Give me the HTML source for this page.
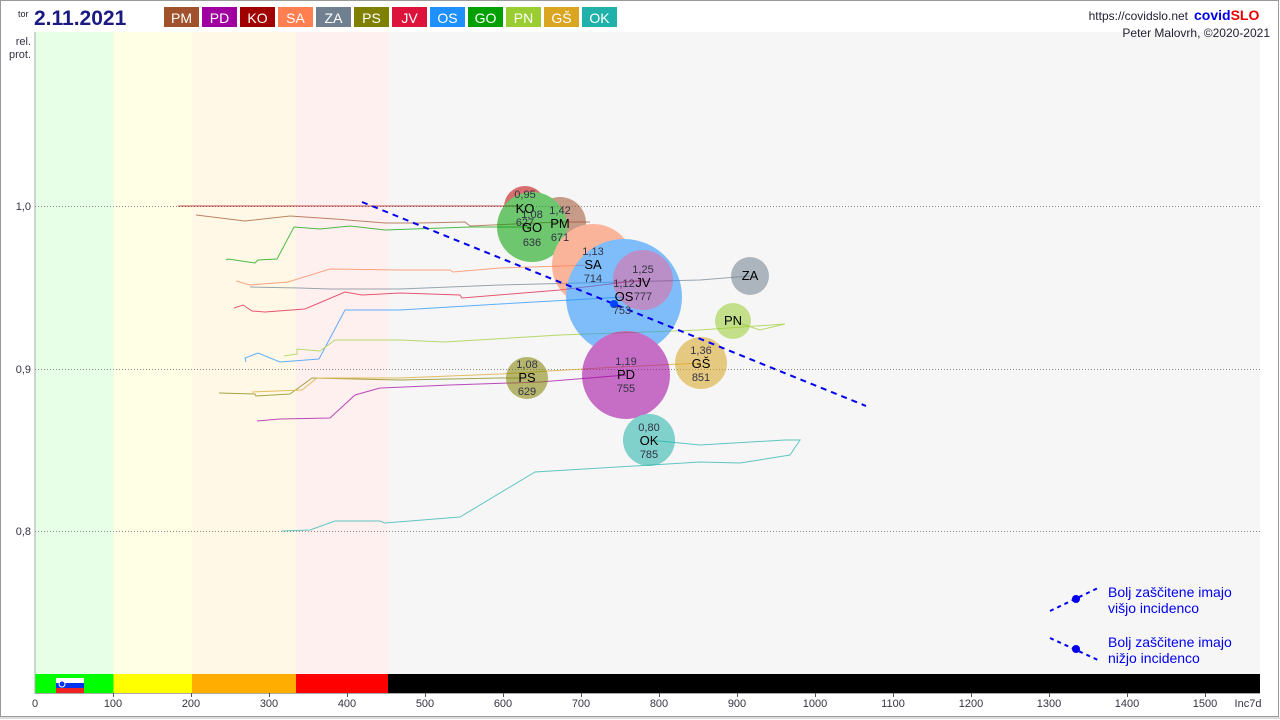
<!DOCTYPE html>
<html><head><meta charset="utf-8"><style>
html,body{margin:0;padding:0;background:#fff;}
svg{display:block;font-family:"Liberation Sans",sans-serif;}
</style></head><body>
<svg width="1280" height="720" viewBox="0 0 1280 720" xmlns="http://www.w3.org/2000/svg">
<rect x="0" y="0" width="1280" height="720" fill="#fff"/>
<rect x="0.5" y="0.5" width="1278" height="716" fill="none" stroke="#999"/>
<line x1="0" y1="718" x2="1280" y2="718" stroke="#ddd" stroke-width="2"/>
<!-- bands -->
<rect x="35" y="32" width="78.5" height="642" fill="#e6ffe6"/>
<rect x="113.5" y="32" width="78.5" height="642" fill="#ffffe6"/>
<rect x="192" y="32" width="104" height="642" fill="#fff8e6"/>
<rect x="296" y="32" width="92" height="642" fill="#fff0f0"/>
<rect x="388" y="32" width="872" height="642" fill="#f6f6f6"/>
<rect x="35" y="674" width="78.5" height="19" fill="#00ff00"/>
<rect x="113.5" y="674" width="78.5" height="19" fill="#ffff00"/>
<rect x="192" y="674" width="104" height="19" fill="#ffad00"/>
<rect x="296" y="674" width="92" height="19" fill="#ff0000"/>
<rect x="388" y="674" width="872" height="19" fill="#000"/>
<rect x="56" y="678" width="28" height="5" fill="#fff"/>
<rect x="56" y="683" width="28" height="5" fill="#0033ee"/>
<rect x="56" y="688" width="28" height="5" fill="#ee2222"/>
<circle cx="62" cy="684" r="3" fill="#0033ee" stroke="#fff" stroke-width="1"/>
<line x1="35" y1="32" x2="35" y2="694" stroke="#aaa"/>
<line x1="35" y1="693.5" x2="1260" y2="693.5" stroke="#aaa"/>
<!-- grid -->
<g stroke="#888" stroke-dasharray="1,2" stroke-width="1">
<line x1="35" y1="206.5" x2="1260" y2="206.5"/>
<line x1="35" y1="369.5" x2="1260" y2="369.5"/>
<line x1="35" y1="531.5" x2="1260" y2="531.5"/>
</g>
<g font-size="11" fill="#334" text-anchor="end">
<text x="31" y="210">1,0</text><text x="31" y="373">0,9</text><text x="31" y="535">0,8</text>
<text x="31" y="45">rel.</text><text x="31" y="58">prot.</text>
</g>
<g font-size="11" fill="#334" text-anchor="middle">
<text x="35" y="707">0</text><text x="113" y="707">100</text><text x="191" y="707">200</text><text x="269" y="707">300</text><text x="347" y="707">400</text><text x="425" y="707">500</text><text x="503" y="707">600</text><text x="581" y="707">700</text><text x="659" y="707">800</text><text x="737" y="707">900</text><text x="815" y="707">1000</text><text x="893" y="707">1100</text><text x="971" y="707">1200</text><text x="1049" y="707">1300</text><text x="1127" y="707">1400</text><text x="1205" y="707">1500</text><text x="1248" y="707">Inc7d</text>
</g>
<g stroke="#555" stroke-width="1">
<line x1="113.5" y1="693" x2="113.5" y2="697"/><line x1="191.5" y1="693" x2="191.5" y2="697"/><line x1="269.5" y1="693" x2="269.5" y2="697"/><line x1="347.5" y1="693" x2="347.5" y2="697"/><line x1="425.5" y1="693" x2="425.5" y2="697"/><line x1="503.5" y1="693" x2="503.5" y2="697"/><line x1="581.5" y1="693" x2="581.5" y2="697"/><line x1="659.5" y1="693" x2="659.5" y2="697"/><line x1="737.5" y1="693" x2="737.5" y2="697"/><line x1="815.5" y1="693" x2="815.5" y2="697"/><line x1="893.5" y1="693" x2="893.5" y2="697"/><line x1="971.5" y1="693" x2="971.5" y2="697"/><line x1="1049.5" y1="693" x2="1049.5" y2="697"/><line x1="1127.5" y1="693" x2="1127.5" y2="697"/><line x1="1205.5" y1="693" x2="1205.5" y2="697"/>
</g>
<!-- trails -->
<g fill="none" stroke-width="1" opacity="0.7">
<polyline stroke="#a00000" points="178,206 520,206"/>
<polyline stroke="#a0522d" points="196,215 245,221 290,216 335,219 385,223 420,223 465,222 470,226 560,222 590,222"/>
<polyline stroke="#00a000" points="226,260 228,259 255,263 258,260 277,259 294,227 320,229 350,226 385,230 470,227 532,227"/>
<polyline stroke="#ff7f50" points="236,281 250,285 288,282 330,269 400,270 450,270 453,272 500,268 593,265"/>
<polyline stroke="#708090" points="250,287 300,288 330,289 400,289 500,285 700,280 750,276"/>
<polyline stroke="#dc143c" points="234,308 243,305 252,311 265,312 305,309 345,292 362,295 400,293 460,295 462,298 560,290 643,280"/>
<polyline stroke="#1e90ff" points="246,362 245,358 258,353 280,362 319,359 345,310 400,310 500,304 624,297"/>
<polyline stroke="#9acd32" points="284,356 297,354 297,349 320,351 335,340 400,340 445,342 560,335 700,330 785,324 760,330 733,321"/>
<polyline stroke="#808000" points="219,393 255,394 256,396 290,394 312,378 400,380 500,378 527,378"/>
<polyline stroke="#daa520" points="252,392 302,390 317,378 355,378 400,378 500,374 600,368 701,363"/>
<polyline stroke="#a000a0" points="257,421 280,419 330,418 355,395 380,388 450,385 540,382 626,375"/>
<polyline stroke="#20b2aa" points="282,531 310,530 335,521 380,521 385,523 460,517 535,472 700,462 740,463 790,455 800,440 785,440 700,445 649,440"/>
</g>
<!-- bubbles -->
<g opacity="0.55">
<circle cx="560" cy="223" r="26" fill="#a0522d"/>
<circle cx="525" cy="207" r="21" fill="#c00000"/>
<circle cx="532" cy="227" r="35" fill="#00a000"/>
<circle cx="593" cy="265" r="41" fill="#ff7f50"/>
<circle cx="624" cy="297" r="58" fill="#1e90ff"/>
<circle cx="643" cy="280" r="30" fill="#8a3aa0"/>
<circle cx="750" cy="276" r="19" fill="#708090"/>
<circle cx="733" cy="321" r="18" fill="#9acd32"/>
<circle cx="701" cy="363" r="26" fill="#daa520"/>
<circle cx="626" cy="375" r="44" fill="#a000a0"/>
<circle cx="527" cy="378" r="21" fill="#808000"/>
<circle cx="649" cy="440" r="26" fill="#20b2aa"/>
</g>
<line x1="362" y1="202" x2="866" y2="406" stroke="#0000ee" stroke-width="2" stroke-dasharray="6,5"/>
<circle cx="614" cy="304" r="4" fill="#0044ff"/>
<!-- bubble labels -->
<g text-anchor="middle" font-size="11" fill="#334">
<text x="525" y="198">0,95</text><text x="525" y="213" font-size="13" fill="#000">KO</text><text x="525" y="226">627</text>
<text x="532" y="218">1,08</text><text x="532" y="232" font-size="13" fill="#000">GO</text><text x="532" y="246">636</text>
<text x="560" y="214">1,42</text><text x="560" y="228" font-size="13" fill="#000">PM</text><text x="560" y="241">671</text>
<text x="593" y="255">1,13</text><text x="593" y="269" font-size="13" fill="#000">SA</text><text x="593" y="282">714</text>
<text x="643" y="273">1,25</text><text x="643" y="287" font-size="13" fill="#000">JV</text><text x="643" y="300">777</text>
<text x="624" y="287">1,12</text><text x="624" y="301" font-size="13" fill="#000">OS</text><text x="622" y="314">753</text>
<text x="750" y="280" font-size="13" fill="#000">ZA</text>
<text x="733" y="325" font-size="13" fill="#000">PN</text>
<text x="701" y="354">1,36</text><text x="701" y="368" font-size="13" fill="#000">GŠ</text><text x="701" y="381">851</text>
<text x="626" y="365">1,19</text><text x="626" y="379" font-size="13" fill="#000">PD</text><text x="626" y="392">755</text>
<text x="527" y="368">1,08</text><text x="527" y="382" font-size="13" fill="#000">PS</text><text x="527" y="395">629</text>
<text x="649" y="431">0,80</text><text x="649" y="445" font-size="13" fill="#000">OK</text><text x="649" y="458">785</text>
</g>
<!-- legend -->
<g stroke="#0000ee" stroke-width="2" stroke-dasharray="4,4" fill="none">
<line x1="1050" y1="611" x2="1098" y2="588"/>
<line x1="1050" y1="638" x2="1098" y2="660"/>
</g>
<circle cx="1076" cy="599" r="4" fill="#0000ee"/>
<circle cx="1076" cy="649" r="4" fill="#0000ee"/>
<g font-size="14" fill="#0000ee">
<text x="1108" y="597">Bolj  zaščitene imajo</text><text x="1108" y="613">višjo incidenco</text>
<text x="1108" y="647">Bolj  zaščitene imajo</text><text x="1108" y="663">nižjo incidenco</text>
</g>
<!-- header -->
<text x="18" y="17" font-size="9" fill="#223">tor</text>
<text x="34" y="25" font-size="21" font-weight="bold" fill="#1a1a80">2.11.2021</text>
<g font-size="14" fill="#fff" text-anchor="middle">
<rect x="164" y="7" width="35" height="20" fill="#a0522d"/><text x="181.5" y="23">PM</text>
<rect x="202" y="7" width="35" height="20" fill="#a000a0"/><text x="219.5" y="23">PD</text>
<rect x="240" y="7" width="35" height="20" fill="#a00000"/><text x="257.5" y="23">KO</text>
<rect x="278" y="7" width="35" height="20" fill="#ff7f50"/><text x="295.5" y="23">SA</text>
<rect x="316" y="7" width="35" height="20" fill="#708090"/><text x="333.5" y="23">ZA</text>
<rect x="354" y="7" width="35" height="20" fill="#808000"/><text x="371.5" y="23">PS</text>
<rect x="392" y="7" width="35" height="20" fill="#dc143c"/><text x="409.5" y="23">JV</text>
<rect x="430" y="7" width="35" height="20" fill="#1e90ff"/><text x="447.5" y="23">OS</text>
<rect x="468" y="7" width="35" height="20" fill="#00a000"/><text x="485.5" y="23">GO</text>
<rect x="506" y="7" width="35" height="20" fill="#9acd32"/><text x="523.5" y="23">PN</text>
<rect x="544" y="7" width="35" height="20" fill="#daa520"/><text x="561.5" y="23">GŠ</text>
<rect x="582" y="7" width="35" height="20" fill="#20b2aa"/><text x="599.5" y="23">OK</text>
</g>
<text x="1188" y="20" font-size="12" fill="#223" text-anchor="end">https://covidslo.net</text>
<text x="1194" y="20" font-size="14" font-weight="bold" fill="#0000ee">covid<tspan fill="#ee0000">SLO</tspan></text>
<text x="1270" y="37" font-size="12" fill="#223" text-anchor="end">Peter Malovrh, ©2020-2021</text>
</svg>
</body></html>
